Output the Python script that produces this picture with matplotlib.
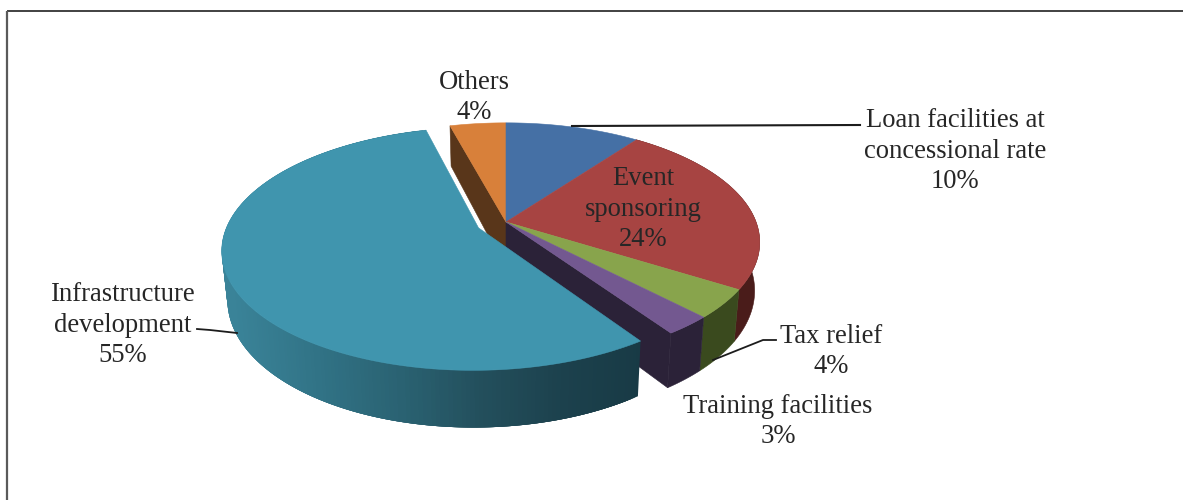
import numpy as np
import matplotlib
matplotlib.use("Agg")
import matplotlib.pyplot as plt
from matplotlib.collections import PolyCollection
from matplotlib.colors import LinearSegmentedColormap

# ---- data ----
categories = ["Loan facilities at\nconcessional rate", "Event\nsponsoring", "Tax relief",
              "Training facilities", "Infrastructure\ndevelopment", "Others"]
shares = [10.1, 23.8, 3.9, 2.6, 55.4, 4.2]
printed = ["10%", "24%", "4%", "3%", "55%", "4%"]
top_colors = ["#4570a5", "#a74442", "#88a44c", "#735890", "#4095ae", "#d8803a"]
side_colors = ["#2a4262", "#4a1c1a", "#3a4a1e", "#2b2238", None, "#59361a"]
label_xy = [(955, 151), (643, 209), (831, 351.5), (778, 421.5), (123, 325), (474, 97.5)]

# ---- projection of the pie disc ----
CX, CY, R, S, K, D, TAPER = 506, 222, 250, 116, 0.17, 47, 0.98
EXPLODE = {4: 0.12}

def project(u, v, drop=False):
    w = 1 + K * v
    x = CX + R * u / w
    y = CY - S * v / w
    if drop:
        x = CX + (x - CX) * TAPER
        y = y + D / w
    return x, y

fig = plt.figure(figsize=(11.83, 5.0), dpi=100)
ax = fig.add_axes([0, 0, 1, 1])
ax.set_xlim(0, 1183)
ax.set_ylim(500, 0)
ax.axis("off")

# frame (open at the right and at the bottom)
ax.plot([7.5, 1183], [11, 11], color="#333333", lw=1.3, solid_capstyle="butt", zorder=1)
ax.plot([7.5, 7.5], [10.5, 500], color="#5a5a5a", lw=1.6, solid_capstyle="butt", zorder=1)

ends = np.cumsum(shares) / np.sum(shares) * 2 * np.pi
starts = np.r_[0, ends[:-1]]
teal_map = LinearSegmentedColormap.from_list(
    "teal_side", ["#3a8398", "#317386", "#2a6272", "#234f5c", "#1c414d", "#183a45"])

def wedge(i):
    t = np.linspace(starts[i], ends[i], 240)
    d = EXPLODE.get(i, 0)
    mid = (starts[i] + ends[i]) / 2
    u0, v0 = d * np.sin(mid), d * np.cos(mid)
    return u0, v0, u0 + np.sin(t), v0 + np.cos(t)

def top(i, z):
    u0, v0, u, v = wedge(i)
    x, y = project(np.r_[u0, u], np.r_[v0, v])
    ax.fill(x, y, color=top_colors[i], lw=0.4, zorder=z)

def rim(i, z):
    _, _, u, v = wedge(i)
    x1, y1 = project(u, v)
    x2, y2 = project(u, v, True)
    if side_colors[i] is not None:
        ax.fill(np.r_[x1, x2[::-1]], np.r_[y1, y2[::-1]], color=side_colors[i], lw=0.4, zorder=z)
    else:
        # overlapping strips: each one reaches under the next, so no seams show
        quads = [[(x1[j], y1[j]), (x1[j + 4], y1[j + 4]), (x2[j + 4], y2[j + 4]), (x2[j], y2[j])]
                 for j in range(len(x1) - 4)]
        mid_x = (x1[:-4] + x1[4:]) / 2
        pc = PolyCollection(quads, array=mid_x, cmap=teal_map,
                            clim=(230, 640), edgecolors="none", linewidths=0, zorder=z)
        ax.add_collection(pc)

def cut(i, angle, z):
    ua, va = np.sin(angle), np.cos(angle)
    xa, ya = project(np.array([0.0, ua]), np.array([0.0, va]))
    xb, yb = project(np.array([0.0, ua]), np.array([0.0, va]), True)
    ax.fill([xa[0], xa[1], xb[1], xb[0]], [ya[0], ya[1], yb[1], yb[0]],
            color=side_colors[i], lw=0.4, zorder=z)

# back to front: others, main group, exploded slice
cut(5, starts[5], 2)
rim(1, 3); rim(2, 3); rim(3, 3)
cut(3, ends[3], 4)
for i in (5, 0, 1, 2, 3):
    top(i, 5)
rim(4, 6)
top(4, 7)

# leader lines
lc = "#1c1c1c"
ax.plot([572, 860], [126, 125], color=lc, lw=1.5, zorder=8)
ax.plot([713, 763, 776], [360, 340, 340], color=lc, lw=1.3, zorder=8)
ax.plot([197, 210, 237], [329, 330, 333], color=lc, lw=1.3, zorder=8)

# labels
for name, pct, (x, y) in zip(categories, printed, label_xy):
    ax.text(x, y, f"{name}\n{pct}", ha="center", va="center", family="Liberation Serif",
            fontsize=19.2, color="#262626", linespacing=1.28, zorder=9)

fig.savefig("out.png", dpi=100)
